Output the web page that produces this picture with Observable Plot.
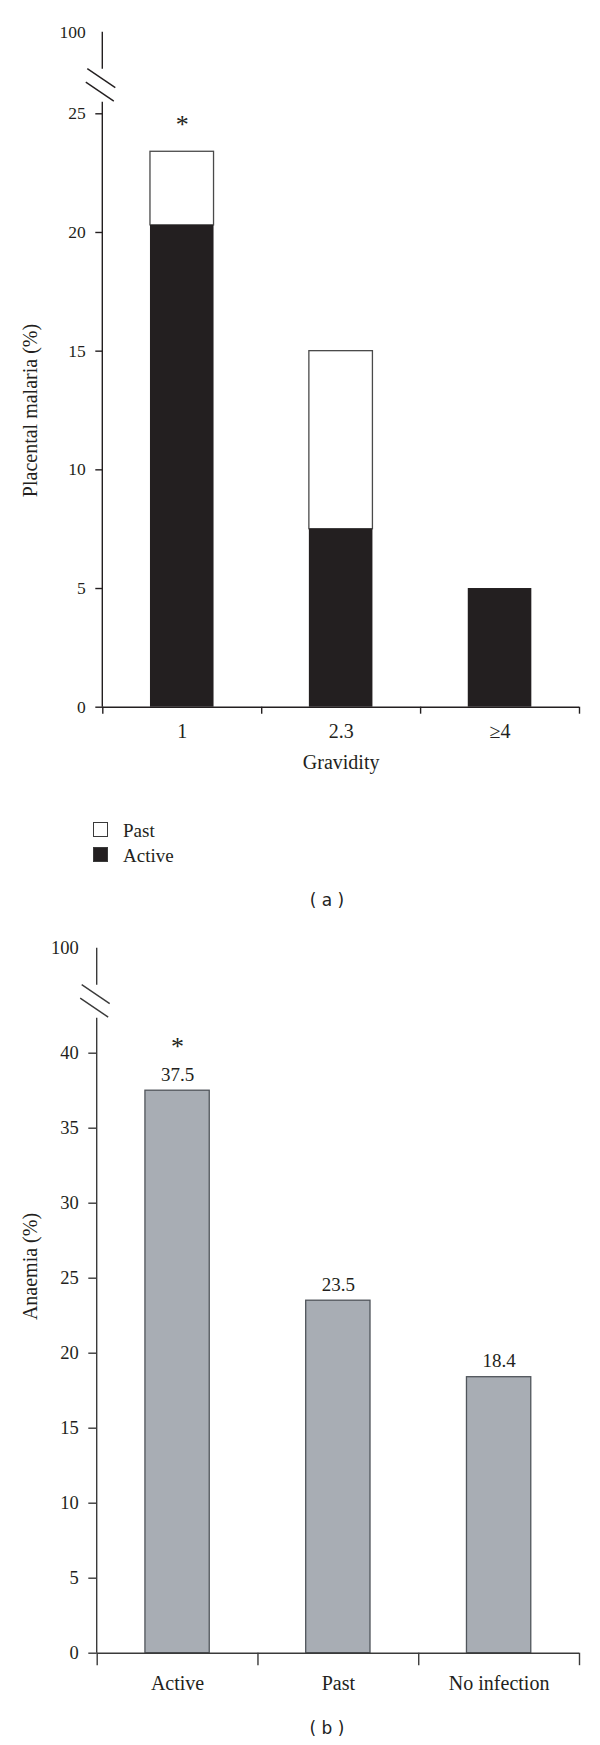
<!DOCTYPE html>
<html><head><meta charset="utf-8">
<script src="https://cdn.jsdelivr.net/npm/d3@7"></script>
<script src="https://cdn.jsdelivr.net/npm/@observablehq/plot@0.6"></script>
<style>
html,body{margin:0;padding:0;background:#fff;}
#page{position:relative;width:600px;height:1745px;overflow:hidden;font-family:"Liberation Serif",serif;color:#231f20;}
.panel{position:absolute;left:0;}
.sw{position:absolute;width:15px;height:15px;box-sizing:border-box;border:1.3px solid #3a3a3a;}
.lt{position:absolute;font-size:19px;line-height:19px;white-space:nowrap;}
.cap{position:absolute;transform:translate(-50%,-50%);font-family:"DejaVu Sans",sans-serif;font-size:17px;white-space:pre;color:#222;}
</style>
</head><body><div id="page"></div>
<script>
// ---- Panel (a): placental malaria by gravidity ----
const gravidity = ["1", "2.3", "≥4"];
const activeA = [20.3, 7.5, 5.0];
const pastA = [3.1, 7.5, 0];
const sigA = ["*", "", ""];
const yTicksA = [0, 5, 10, 15, 20, 25];
const yTopA = 100;
const xTitleA = "Gravidity";
const yTitleA = "Placental malaria (%)";
const legendItems = ["Past", "Active"];
const captionA = "( a )";

// ---- Panel (b): anaemia by infection status ----
const groupsB = ["Active", "Past", "No infection"];
const anaemia = [37.5, 23.5, 18.4];
const sigB = ["*", "", ""];
const yTicksB = [0, 5, 10, 15, 20, 25, 30, 35, 40];
const yTopB = 100;
const yTitleB = "Anaemia (%)";
const captionB = "( b )";

const ink = "#231f20";
const page = document.getElementById("page");

const activeRows = activeA.map((v, i) => ({i, y1: 0, y2: v})).filter(d => d.y2 > d.y1);
const pastRows = pastA.map((v, i) => ({i, y1: activeA[i], y2: activeA[i] + v})).filter(d => d.y2 > d.y1);

function drawBreak(chart, top, color) {
  const x = chart.scale("x").apply(0);
  const y = chart.scale("y");
  const y0 = y.apply(0), yT = y.apply(top);
  const g = d3.select(chart).append("g").attr("stroke", color).attr("stroke-width", 1.4).attr("fill", "none");
  g.append("line").attr("x1", x).attr("x2", x).attr("y1", y0).attr("y2", yT + 70);
  g.append("line").attr("x1", x).attr("x2", x).attr("y1", yT + 37).attr("y2", yT);
  const b = yT + 37;
  g.append("line").attr("x1", x - 15).attr("y1", b).attr("x2", x + 13).attr("y2", b + 19);
  g.append("line").attr("x1", x - 16.5).attr("y1", b + 13.5).attr("x2", x + 11.5).attr("y2", b + 32.5);
}

const chartA = Plot.plot({
  width: 600, height: 790,
  marginLeft: 102.3, marginRight: 21, marginTop: 113.3, marginBottom: 83.3,
  style: {fontFamily: '"Liberation Serif", serif', fontSize: "17.5px", color: ink, background: "white"},
  x: {type: "linear", domain: [0, gravidity.length], axis: null},
  y: {type: "linear", domain: [0, 25, yTopA], range: [706.7, 113.3, 31.7], axis: null},
  marks: [
    Plot.rect(pastRows, {x1: d => d.i + 0.3, x2: d => d.i + 0.7, y1: "y1", y2: "y2", fill: "white", stroke: "#4a4a4a", strokeWidth: 1.3}),
    Plot.rect(activeRows, {x1: d => d.i + 0.3, x2: d => d.i + 0.7, y1: "y1", y2: "y2", fill: ink}),
    Plot.ruleY([0], {stroke: ink, strokeWidth: 1.4}),
    Plot.axisX({ticks: d3.range(gravidity.length + 1), tickSize: 7, tickFormat: () => "", stroke: ink, strokeWidth: 1.4}),
    Plot.axisY({ticks: yTicksA, tickSize: 7, tickPadding: 10, stroke: ink, strokeWidth: 1.4, fontSize: 17.5}),
    Plot.axisY({ticks: [yTopA], tickSize: 0, tickPadding: 17, fontSize: 17.5}),
    Plot.text(gravidity, {x: (d, i) => i + 0.5, y: 0, dy: 24, text: d => d, lineAnchor: "middle", fontSize: 20}),
    Plot.text([xTitleA], {frameAnchor: "bottom", dy: 55, text: d => d, lineAnchor: "middle", textAnchor: "middle", fontSize: 20}),
    Plot.text([yTitleA], {frameAnchor: "left", rotate: -90, dx: -72, text: d => d, lineAnchor: "middle", textAnchor: "middle", fontSize: 20}),
    Plot.text(sigA, {x: (d, i) => i + 0.5, y: (d, i) => activeA[i] + pastA[i], dy: -18.4, text: d => d, lineAnchor: "bottom", fontSize: 26})
  ]
});
chartA.classList.add("panel");
chartA.style.top = "0px";
drawBreak(chartA, yTopA, ink);
page.appendChild(chartA);

// legend (a)
const legendFill = {Past: "white", Active: ink};
legendItems.forEach((k, j) => {
  const sw = document.createElement("div");
  sw.className = "sw";
  sw.style.left = "93px";
  sw.style.top = (822 + 25 * j) + "px";
  sw.style.background = legendFill[k];
  page.appendChild(sw);
  const t = document.createElement("div");
  t.className = "lt";
  t.textContent = k;
  t.style.left = "123px";
  t.style.top = (821 + 25 * j) + "px";
  page.appendChild(t);
});

function caption(txt, cx, cy) {
  const c = document.createElement("div");
  c.className = "cap";
  c.textContent = txt;
  c.style.left = cx + "px";
  c.style.top = cy + "px";
  page.appendChild(c);
}
caption(captionA, 327, 900);

const axisB = "#3a3a3a";
const chartB = Plot.plot({
  width: 600, height: 790,
  marginLeft: 96.7, marginRight: 21, marginTop: 132.7, marginBottom: 57.3,
  style: {fontFamily: '"Liberation Serif", serif', fontSize: "18.5px", color: ink, background: "white"},
  x: {type: "linear", domain: [0, groupsB.length], axis: null},
  y: {type: "linear", domain: [0, 40, yTopB], range: [732.7, 132.7, 27.7], axis: null},
  marks: [
    Plot.rect(anaemia, {x1: (d, i) => i + 0.3, x2: (d, i) => i + 0.7, y1: 0, y2: d => d, fill: "#a8adb4", stroke: "#50555b", strokeWidth: 1.3}),
    Plot.ruleY([0], {stroke: axisB, strokeWidth: 1.4}),
    Plot.axisX({ticks: d3.range(groupsB.length + 1), tickSize: 12.5, tickFormat: () => "", stroke: axisB, strokeWidth: 1.4}),
    Plot.axisY({ticks: yTicksB, tickSize: 8.4, tickPadding: 10, stroke: axisB, strokeWidth: 1.4, fontSize: 18.5}),
    Plot.axisY({ticks: [yTopB], tickSize: 0, tickPadding: 18.4, fontSize: 18.5}),
    Plot.text(groupsB, {x: (d, i) => i + 0.5, y: 0, dy: 30.5, text: d => d, lineAnchor: "middle", fontSize: 20}),
    Plot.text([yTitleB], {frameAnchor: "left", rotate: -90, dx: -66.7, dy: -86.7, text: d => d, lineAnchor: "middle", textAnchor: "middle", fontSize: 20}),
    Plot.text(anaemia, {x: (d, i) => i + 0.5, y: d => d, dy: -10, text: d => d.toFixed(1), lineAnchor: "bottom", fontSize: 19}),
    Plot.text(sigB, {x: (d, i) => i + 0.5, y: (d, i) => anaemia[i], dy: -35.3, text: d => d, lineAnchor: "bottom", fontSize: 26})
  ]
});
chartB.classList.add("panel");
chartB.style.top = "920px";
drawBreak(chartB, yTopB, axisB);
page.appendChild(chartB);
caption(captionB, 327, 1728);
</script>
</body></html>
